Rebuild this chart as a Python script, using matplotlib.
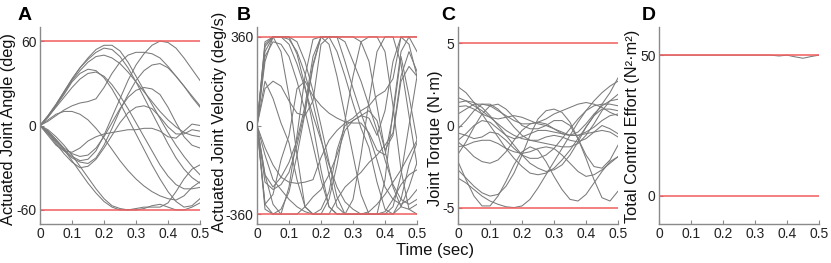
import numpy as np
import matplotlib
matplotlib.use('Agg')
import matplotlib.pyplot as plt

plt.rcParams['font.family'] = ['Liberation Sans', 'DejaVu Sans']

# Instantes de muestreo (s)
tiempo = [0, 0.025, 0.05, 0.075, 0.1, 0.125, 0.15, 0.175, 0.2, 0.225, 0.25,
          0.275, 0.3, 0.325, 0.35, 0.375, 0.4, 0.425, 0.45, 0.475, 0.5]

# A: angulo articular (deg)
angulo = [
    [0, 7, 15, 24, 33, 41, 48, 54, 57, 57, 53, 45, 35, 25, 15, 5, -5, -14, -22, -29, -35],
    [0, 7, 15, 24, 33, 41, 47, 52, 55, 54, 49, 41, 31, 20, 9, -2, -13, -23, -31, -37, -41],
    [0, 6, 14, 23, 32, 39, 45, 49, 50, 48, 44, 38, 31, 24, 17, 10, 4, -1, -5, -7, -8],
    [0, 6, 14, 22, 31, 37, 40, 39, 34, 26, 16, 5, -6, -17, -28, -38, -47, -54, -58, -57, -52],
    [0, -5, -11, -17, -22, -25, -24, -18, -7, 6, 19, 32, 43, 51, 57, 60, 59, 55, 48, 40, 32],
    [0, 3, 7, 11, 14, 16, 17, 19, 27, 37, 45, 50, 52, 52, 51, 48, 42, 35, 28, 21, 14],
    [0, -5, -12, -18, -23, -26, -27, -23, -14, -2, 11, 22, 32, 39, 43, 44, 41, 35, 28, 20, 13],
    [0, -4, -10, -16, -20, -22, -21, -16, -8, 2, 12, 20, 25, 27, 26, 22, 13, 2, -8, -14, -16],
    [0, -7, -14, -18, -19, -16, -11, -8, -6, -5, -4, -3, -3, -2, -2, -4, -8, -9, -4, 1, 0],
    [0, 4, 8, 10, 10, 8, 4, -2, -9, -17, -25, -32, -38, -43, -47, -50, -52, -53, -50, -44, -40],
    [0, -4, -10, -17, -25, -33, -41, -48, -54, -58, -60, -60, -59, -58, -58, -58, -55, -47, -38, -31, -28],
    [0, -3, -8, -14, -21, -29, -37, -45, -52, -57, -59, -60, -60, -59, -57, -56, -58, -60, -60, -58, -55],
    [0, 6, 13, 20, 27, 33, 37, 38, 35, 29, 21, 12, 2, -8, -18, -28, -36, -42, -45, -45, -44],
    [0, -6, -13, -20, -26, -30, -29, -24, -16, -7, 2, 9, 13, 14, 12, 6, -1, -6, -6, -3, -4],
]
limites_A = [-60, 60]

# B: velocidad articular (deg/s)
velocidad = [
    [0, 330, 360, 360, 360, 340, 260, 140, 0, -150, -290, -360, -360, -360, -360, -360, -350, -300, -240, -200, -180],
    [0, 320, 360, 360, 350, 300, 210, 90, -50, -200, -330, -360, -360, -360, -360, -360, -360, -360, -330, -250, -150],
    [0, 300, 360, 360, 330, 250, 150, 40, -60, -160, -250, -310, -340, -360, -350, -320, -280, -230, -180, -120, -60],
    [0, 280, 340, 330, 280, 180, 60, -80, -220, -330, -360, -360, -360, -360, -360, -360, -360, -330, -200, 0, 200],
    [0, -230, -260, -240, -190, -80, 60, 250, 360, 360, 360, 360, 360, 340, 260, 80, -100, -250, -330, -340, -320],
    [0, 150, 180, 160, 100, 50, 40, 100, 330, 360, 360, 260, 150, 50, -40, -140, -250, -300, -320, -300, -260],
    [0, -320, -360, -340, -270, -120, 50, 240, 360, 360, 360, 340, 260, 180, 80, -20, -140, -240, -300, -320, -300],
    [0, -200, -250, -210, -150, -60, 80, 280, 360, 360, 300, 200, 90, -10, -90, -230, -340, -360, -300, -160, -70],
    [0, -320, -280, -140, -40, 150, 180, 120, 80, 50, 30, 15, 10, 10, -30, -100, -120, 40, 280, 120, -60],
    [0, 180, 110, 10, -70, -220, -330, -360, -360, -360, -300, -250, -220, -190, -150, -120, -80, -30, 200, 300, 220],
    [0, -200, -320, -360, -360, -360, -330, -290, -260, -200, -120, -20, 20, 40, 30, -40, 60, 260, 360, 330, 200],
    [0, -120, -220, -260, -300, -330, -350, -360, -340, -270, -100, 0, 20, 40, 60, 20, -100, -40, 180, 240, 200],
    [0, -90, -160, -210, -230, -235, -230, -220, -130, -60, -20, 10, 30, 60, 80, 120, 140, 190, 360, 360, 300],
    [0, 340, 360, 300, 120, -120, -330, -360, -360, -300, -160, 20, 200, 340, 360, 360, 300, 80, -180, -340, -360],
    [0, -340, -360, -360, -250, -40, 200, 350, 360, 330, 200, 40, -120, -280, -360, -360, -220, 60, 300, 360, 360],
    [0, 260, 360, 360, 360, 290, 160, 0, -180, -330, -360, -360, -300, -120, 100, 300, 360, 360, 250, 40, -160],
]
limites_B = [-360, 360]

# C: par articular (N·m)
par = [
    [2.36, 2.0, 1.4, 0.7, 0.0, -0.7, -1.4, -2.0, -2.5, -2.9, -3.0, -2.9, -2.6, -2.1, -1.5, -0.8, -0.1, 0.6, 1.3, 2.0, 2.9],
    [1.7, 1.5, 1.2, 0.9, 0.5, 0.1, -0.3, -0.6, -0.8, -0.9, -1.0, -1.1, -1.2, -1.3, -1.3, -1.1, -0.6, 0.1, 0.9, 1.5, 1.9],
    [1.4, 1.5, 1.4, 1.1, 0.6, 0.0, -0.6, -1.2, -1.8, -2.3, -2.6, -2.8, -2.7, -2.4, -1.8, -1.0, -0.1, 0.6, 1.0, 1.0, 0.9],
    [1.15, 1.2, 1.0, 0.7, 0.5, 0.4, 0.5, 0.6, 0.5, 0.3, 0.1, 0.0, -0.2, -0.4, -0.6, -0.6, -0.4, -0.1, 0.3, 0.6, 0.7],
    [0.7, 1.0, 1.3, 1.3, 1.2, 0.9, 0.6, 0.3, 0.1, 0.1, 0.2, 0.4, 0.7, 0.9, 1.1, 1.3, 1.4, 1.3, 1.1, 0.8, 0.6],
    [-0.2, 0.3, 0.9, 1.3, 1.3, 1.0, 0.5, -0.1, -0.6, -0.9, -0.9, -0.7, -0.6, -0.7, -0.9, -1.0, -0.8, -0.4, 0.0, -0.2, -0.5],
    [-0.46, -0.6, -0.8, -0.7, -0.4, -0.5, -0.9, -1.4, -1.8, -2.0, -2.0, -1.8, -1.4, -0.8, -0.2, 0.4, 0.9, 1.2, 1.3, 1.3, 1.2],
    [-0.9, -0.5, 0.0, 0.3, 0.2, -0.2, -0.6, -0.8, -0.7, -0.5, -0.3, -0.3, -0.4, -0.5, -0.6, -0.6, -0.5, -0.4, -0.3, -0.4, -0.7],
    [-1.3, -1.2, -1.0, -0.9, -0.9, -1.1, -1.4, -1.6, -1.7, -1.6, -1.4, -1.3, -1.4, -1.8, -2.3, -2.8, -3.1, -3.0, -2.7, -2.3, -1.9],
    [-1.75, -1.0, -0.1, 0.7, 1.2, 1.3, 1.0, 0.5, 0.0, -0.2, -0.2, 0.0, 0.3, 0.3, 0.0, -0.8, -1.8, -2.5, -2.6, -2.1, -1.2],
    [-2.7, -3.2, -3.7, -4.1, -4.3, -4.2, -3.7, -2.9, -1.8, -0.6, 0.4, 0.9, 1.0, 0.8, 0.2, -0.8, -2.0, -3.3, -4.4, -4.6, -4.0],
    [-3.2, -3.5, -3.9, -4.3, -4.6, -4.8, -4.95, -5.0, -4.9, -4.5, -3.8, -3.0, -2.2, -1.4, -0.6, 0.2, 0.9, 1.5, 2.0, 2.4, 2.7],
    [-2.2, -3.3, -4.3, -4.9, -4.9, -4.3, -3.4, -2.4, -1.6, -1.3, -1.5, -2.2, -3.1, -3.9, -4.5, -4.6, -4.2, -3.5, -2.8, -2.2, -1.9],
    [-1.0, -1.4, -1.9, -2.2, -2.3, -2.1, -1.6, -0.9, -0.3, 0.1, 0.2, 0.1, -0.2, -0.5, -0.6, -0.4, 0.1, 0.7, 1.2, 1.5, 1.6],
]
limites_C = [-5, 5]

# D: esfuerzo de control total
esfuerzo = [50, 50, 50, 50, 50, 50, 50, 50, 50, 50, 50, 50, 50, 50, 50,
            49.7, 50, 49.4, 48.9, 49.5, 50]
limites_D = [0, 50]

# Configuración de los paneles
paneles = [
    ('A', angulo, limites_A, (-70, 70), 'Actuated Joint Angle (deg)', (-0.195, 0.482)),
    ('B', velocidad, limites_B, (-400, 400), 'Actuated Joint Velocity (deg/s)', (-0.235, 0.518)),
    ('C', par, limites_C, (-6, 6), 'Joint Torque (N·m)', (-0.14, 0.437)),
    ('D', [esfuerzo], limites_D, (-10, 60), 'Total Control Effort (N²·m²)', (-0.168, 0.497)),
]
izquierdas = [40, 257, 458, 659]
letras_x = [18, 237, 441, 642]

W, H = 831, 263
fig = plt.figure(figsize=(W / 100, H / 100), dpi=100)

gris_eje = '#8a8a8a'
for (letra, curvas, limites, ylim, etiqueta, pos), izq, lx in zip(paneles, izquierdas, letras_x):
    ax = fig.add_axes([izq / W, 1 - 224 / H, 160 / W, 197 / H])
    for c in curvas:
        ax.plot(tiempo, c, color='#7a7a7a', lw=0.75)
    for lim in limites:
        ax.plot([0, 0.5], [lim, lim], color='#f25c5c', lw=1.1)
    ax.set_xlim(0, 0.5)
    ax.set_ylim(*ylim)
    ax.set_xticks([0, 0.1, 0.2, 0.3, 0.4, 0.5])
    ax.set_xticklabels(['0', '0.1', '0.2', '0.3', '0.4', '0.5'])
    ax.set_yticks(limites if letra == 'D' else [limites[0], 0, limites[1]])
    ax.set_yticklabels([str(v) for v in ax.get_yticks().astype(int)])
    for lado in ['top', 'right']:
        ax.spines[lado].set_visible(False)
    for lado in ['left', 'bottom']:
        ax.spines[lado].set_color(gris_eje)
        ax.spines[lado].set_linewidth(1.0)
    ax.tick_params(direction='in', length=3, width=0.8, color=gris_eje,
                   labelsize=10, labelcolor='#222222', pad=2.5)
    ax.set_ylabel(etiqueta, fontsize=11.8, va='center', color='#111111')
    ax.yaxis.set_label_coords(pos[0], pos[1])
    fig.text(lx / W, 1 - 20 / H, letra, fontsize=14, fontweight='bold',
             va='baseline', ha='left')

fig.text(435 / W, 1 - 250 / H, 'Time (sec)', fontsize=12, ha='center',
         va='center', color='#111111')

plt.savefig('out.png', dpi=100)
